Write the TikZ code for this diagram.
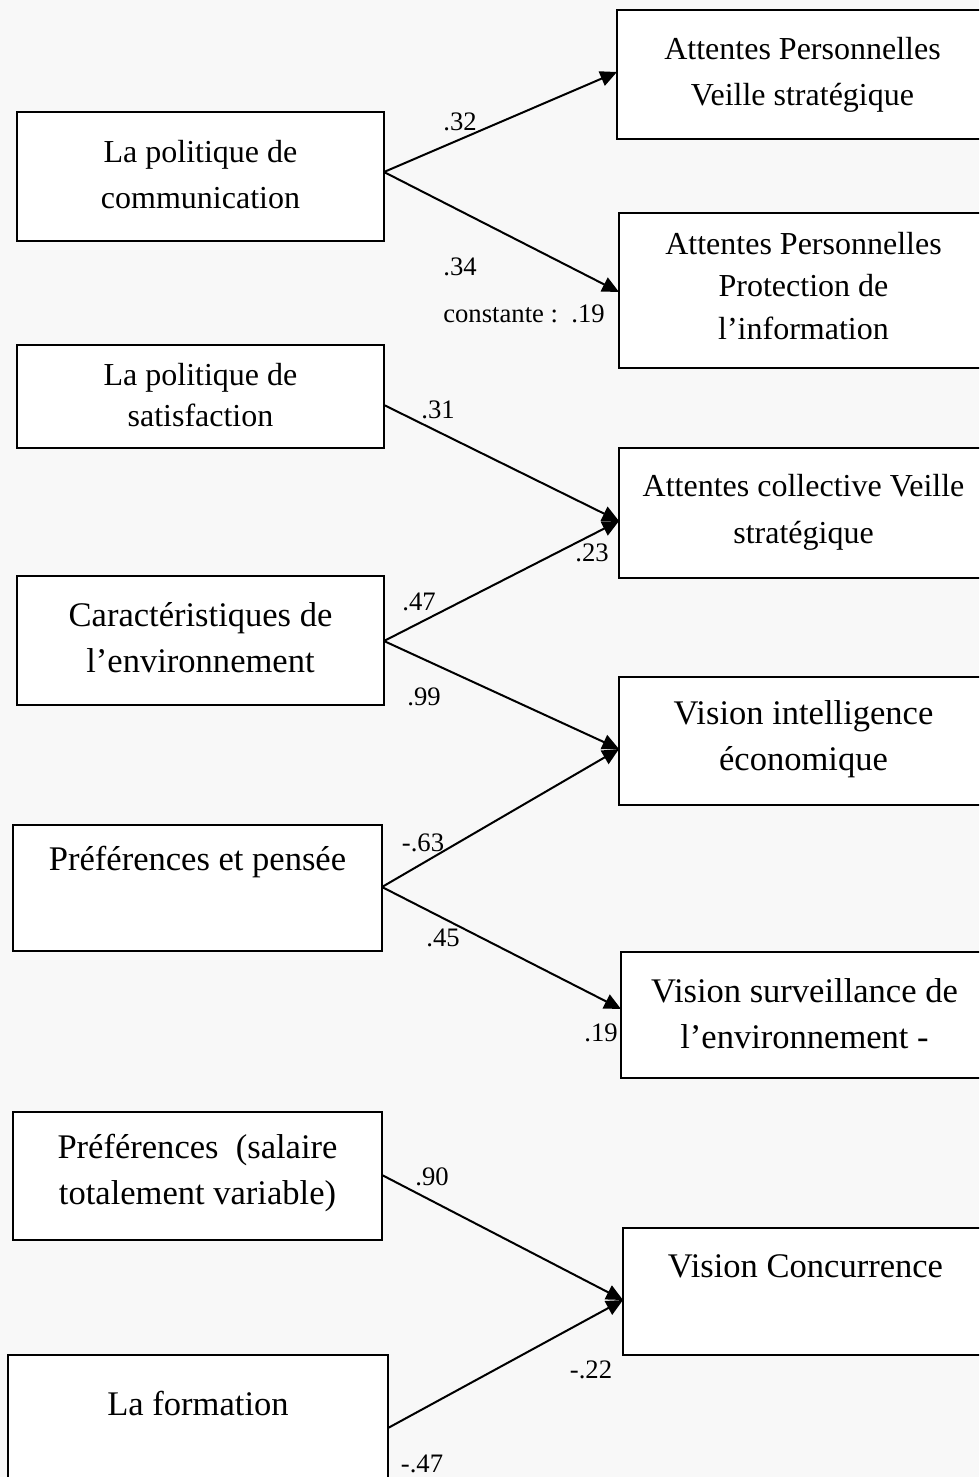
\documentclass[tikz,border=0pt]{standalone}
\usepackage{fontspec}
\setmainfont{Liberation Serif}
\usetikzlibrary{arrows.meta,calc}
\begin{document}
\begin{tikzpicture}[x=0.75pt,y=-0.75pt,
  box/.style={draw=black,fill=white,line width=1.1pt,rectangle,inner sep=0pt,outer sep=0pt},
  txta/.style={align=center,inner sep=0pt,font=\fontsize{24}{34.5}\selectfont},
  txtb/.style={align=center,inner sep=0pt,font=\fontsize{25.9}{34.5}\selectfont},
  lab/.style={inner sep=0pt,font=\fontsize{20}{24}\selectfont},
  conn/.style={line width=1.5pt,-{Triangle[length=12.5pt,width=11.5pt]}}]
\fill[fill={rgb,255:red,248;green,248;blue,248}] (0,0) rectangle (979,1477);
\useasboundingbox (0,0) rectangle (979,1477);
\clip (0,0) rectangle (979,1477);
% boxes
\node[box,minimum width=275.25pt,minimum height=96.75pt] (b1) at (200.5,176.5) {};
\node[box,minimum width=278.25pt,minimum height=96.75pt] (b2) at (802.5,74.5) {};
\node[box,minimum width=276.75pt,minimum height=116.25pt] (b3) at (803.5,290.5) {};
\node[box,minimum width=275.25pt,minimum height=77.25pt] (b4) at (200.5,396.5) {};
\node[box,minimum width=276.75pt,minimum height=97.5pt] (b5) at (803.5,513) {};
\node[box,minimum width=275.25pt,minimum height=96.75pt] (b6) at (200.5,640.5) {};
\node[box,minimum width=276.75pt,minimum height=96pt] (b7) at (803.5,741) {};
\node[box,minimum width=276.75pt,minimum height=94.5pt] (b8) at (197.5,888) {};
\node[box,minimum width=275.25pt,minimum height=94.5pt] (b9) at (804.5,1015) {};
\node[box,minimum width=276.75pt,minimum height=96pt] (b10) at (197.5,1176) {};
\node[box,minimum width=273.75pt,minimum height=95.25pt] (b11) at (805.5,1291.5) {};
\node[box,minimum width=285pt,minimum height=108.75pt] (b12) at (198,1427.5) {};
% texts
\node[txta] (t1) at (200.5,175) {La politique de\\communication};
\node[txta] (t2) at (802.5,75) {Attentes Personnelles\\Veille stratégique};
\node[txta,font=\fontsize{24}{31.9}\selectfont] (t3) at (803.5,286) {Attentes Personnelles\\Protection de\\l’information};
\node[txta,font=\fontsize{24}{30.75}\selectfont] (t4) at (200.5,395.5) {La politique de\\satisfaction};
\node[txta,font=\fontsize{24}{35.25}\selectfont] (t5) at (803.5,512.5) {Attentes collective Veille\\stratégique};
\node[txtb] (t6) at (200.5,638) {Caractéristiques de\\l’environnement};
\node[txtb] (t7) at (803.5,739.5) {Vision intelligence\\économique};
\node[txtb] (t8) at (197.5,862) {Préférences et pensée};
\node[txtb] (t9) at (804.5,1013.5) {Vision surveillance de\\l’environnement -};
\node[txtb] (t10) at (197.5,1173.5) {Préférences\ \ (salaire\\totalement variable)};
\node[txtb] (t11) at (805.5,1266) {Vision Concurrence};
\node[txtb] (t12) at (198,1403) {La formation};
% connectors
\draw[conn] ($(b1.east)+(0,-4.5)$) -- ($(b2.west)+(0,-2.5)$);
\draw[conn] ($(b1.east)+(0,-4.5)$) -- ($(b3.west)+(0,1.5)$);
\draw[conn] ($(b4.east)+(0,8.5)$) -- ($(b5.west)+(0,8)$);
\draw[conn] ($(b6.east)+(0,0.5)$) -- ($(b5.west)+(0,8)$);
\draw[conn] ($(b6.east)+(0,0.5)$) -- ($(b7.west)+(0,8)$);
\draw[conn] ($(b8.east)+(0,-1)$) -- ($(b7.west)+(0,8)$);
\draw[conn] ($(b8.east)+(0,-1)$) -- ($(b9.west)+(0,-6)$);
\draw[conn] ($(b10.east)+(0,-1)$) -- ($(b11.west)+(0,8.5)$);
\draw[conn] ($(b12.east)+(0,0.5)$) -- ($(b11.west)+(0,8.5)$);
% labels
\node[lab] (l1) at (460,122) {.32};
\node[lab] (l2) at (460,267) {.34};
\node[lab] (l3) at (524,314) {constante :\ \ .19};
\node[lab] (l4) at (438,410) {.31};
\node[lab] (l5) at (592,553) {.23};
\node[lab] (l6) at (419,602) {.47};
\node[lab] (l7) at (424,697) {.99};
\node[lab] (l8) at (423,843) {-.63};
\node[lab] (l9) at (443,938) {.45};
\node[lab] (l10) at (601,1033) {.19};
\node[lab] (l11) at (432,1177) {.90};
\node[lab] (l12) at (591,1370) {-.22};
\node[lab] (l13) at (422,1464) {-.47};
\end{tikzpicture}
\end{document}
